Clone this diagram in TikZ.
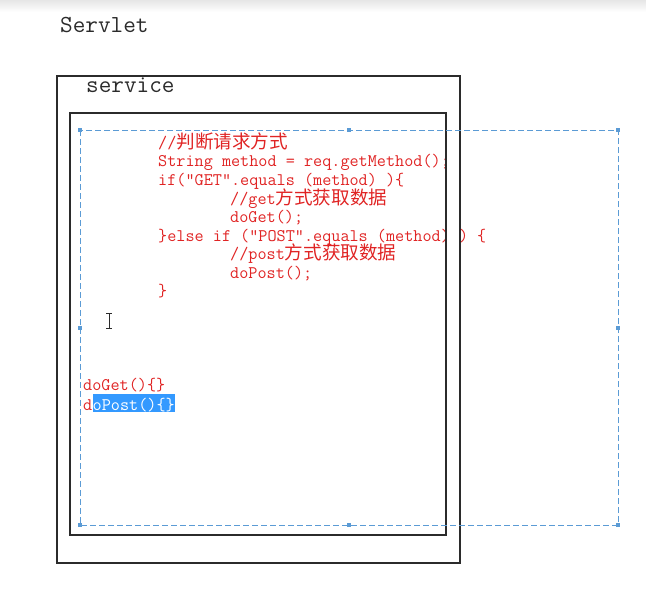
\documentclass[tikz,border=0pt]{standalone}
\usepackage{fontspec}
\newfontfamily\cjk[Scale=1.05]{Noto Sans CJK SC}
\usetikzlibrary{positioning}
\definecolor{svink}{HTML}{2B2B2B}
\definecolor{svred}{HTML}{E02424}
\definecolor{svblue}{HTML}{5B9BD5}
\definecolor{svsel}{HTML}{3399FF}
\tikzset{
  sv title/.style={font=\fontsize{24.5}{27}\ttfamily, text=svink, anchor=base west, inner sep=0pt},
  sv code/.style={font=\fontsize{17.7}{20}\ttfamily, text=svred, anchor=base west, inner sep=0pt},
  sv box/.style={draw=svink, line width=1.2pt},
  sv select/.style={draw=svblue, line width=0.9pt, dash pattern=on 6pt off 3pt},
  sv handle/.style={fill=svblue, minimum size=4pt, inner sep=0pt}
}

\begin{document}
\begin{tikzpicture}[x=1pt, y=-1pt]
  \useasboundingbox (0,0) rectangle (646,594);
  \shade[top color=black!10, bottom color=white] (0,0) rectangle (646,12);
  % titles
  \node[sv title] (servlet) at (60,33) {Servlet};
  \node[sv title] (service) at (86,93) {service};
  % code inside service
  \node[sv code] (c1) at (158,148) {//{\cjk 判断请求方式}};
  \node[sv code] (c2) at (158,166.7) {String method = req.getMethod();};
  \node[sv code] (c3) at (158,185.4) {if("GET".equals (method) )\{};
  \node[sv code] (c4) at (230,204) {//get{\cjk 方式获取数据}};
  \node[sv code] (c5) at (230,222.7) {doGet();};
  \node[sv code] (c6) at (158,241) {\}else if ("POST".equals (method) ) \{};
  \node[sv code] (c7) at (230,259.5) {//post{\cjk 方式获取数据}};
  \node[sv code] (c8) at (230,278) {doPost();};
  \node[sv code] (c9) at (158,296.7) {\}};
  \node[sv code] (g1) at (83,390.7) {doGet()\{\}};
  \node[sv code] (p1) at (83,410) {d};
  \node[sv code, fill=svsel, text=white, text height=16pt, text depth=2pt,
    right=0pt of p1.base east, anchor=base west] (p2) {oPost()\{\}};
  % text cursor
  \draw[svink, line width=0.9pt] (109,313) -- (109,328)
    (106,313) -- (112,313) (106,328) -- (112,328);
  % frames
  \draw[sv box] (57,76) rectangle (460,563);
  \draw[sv box] (70,113) rectangle (446,535);
  \draw[sv select] (80,130) rectangle (618,525);
  \node[sv handle] (h1) at (80,130) {};
  \node[sv handle] (h2) at (349,130) {};
  \node[sv handle] (h3) at (618,130) {};
  \node[sv handle] (h4) at (618,328) {};
  \node[sv handle] (h5) at (618,525) {};
  \node[sv handle] (h6) at (349,525) {};
  \node[sv handle] (h7) at (80,525) {};
  \node[sv handle] (h8) at (80,328) {};
\end{tikzpicture}
\end{document}
